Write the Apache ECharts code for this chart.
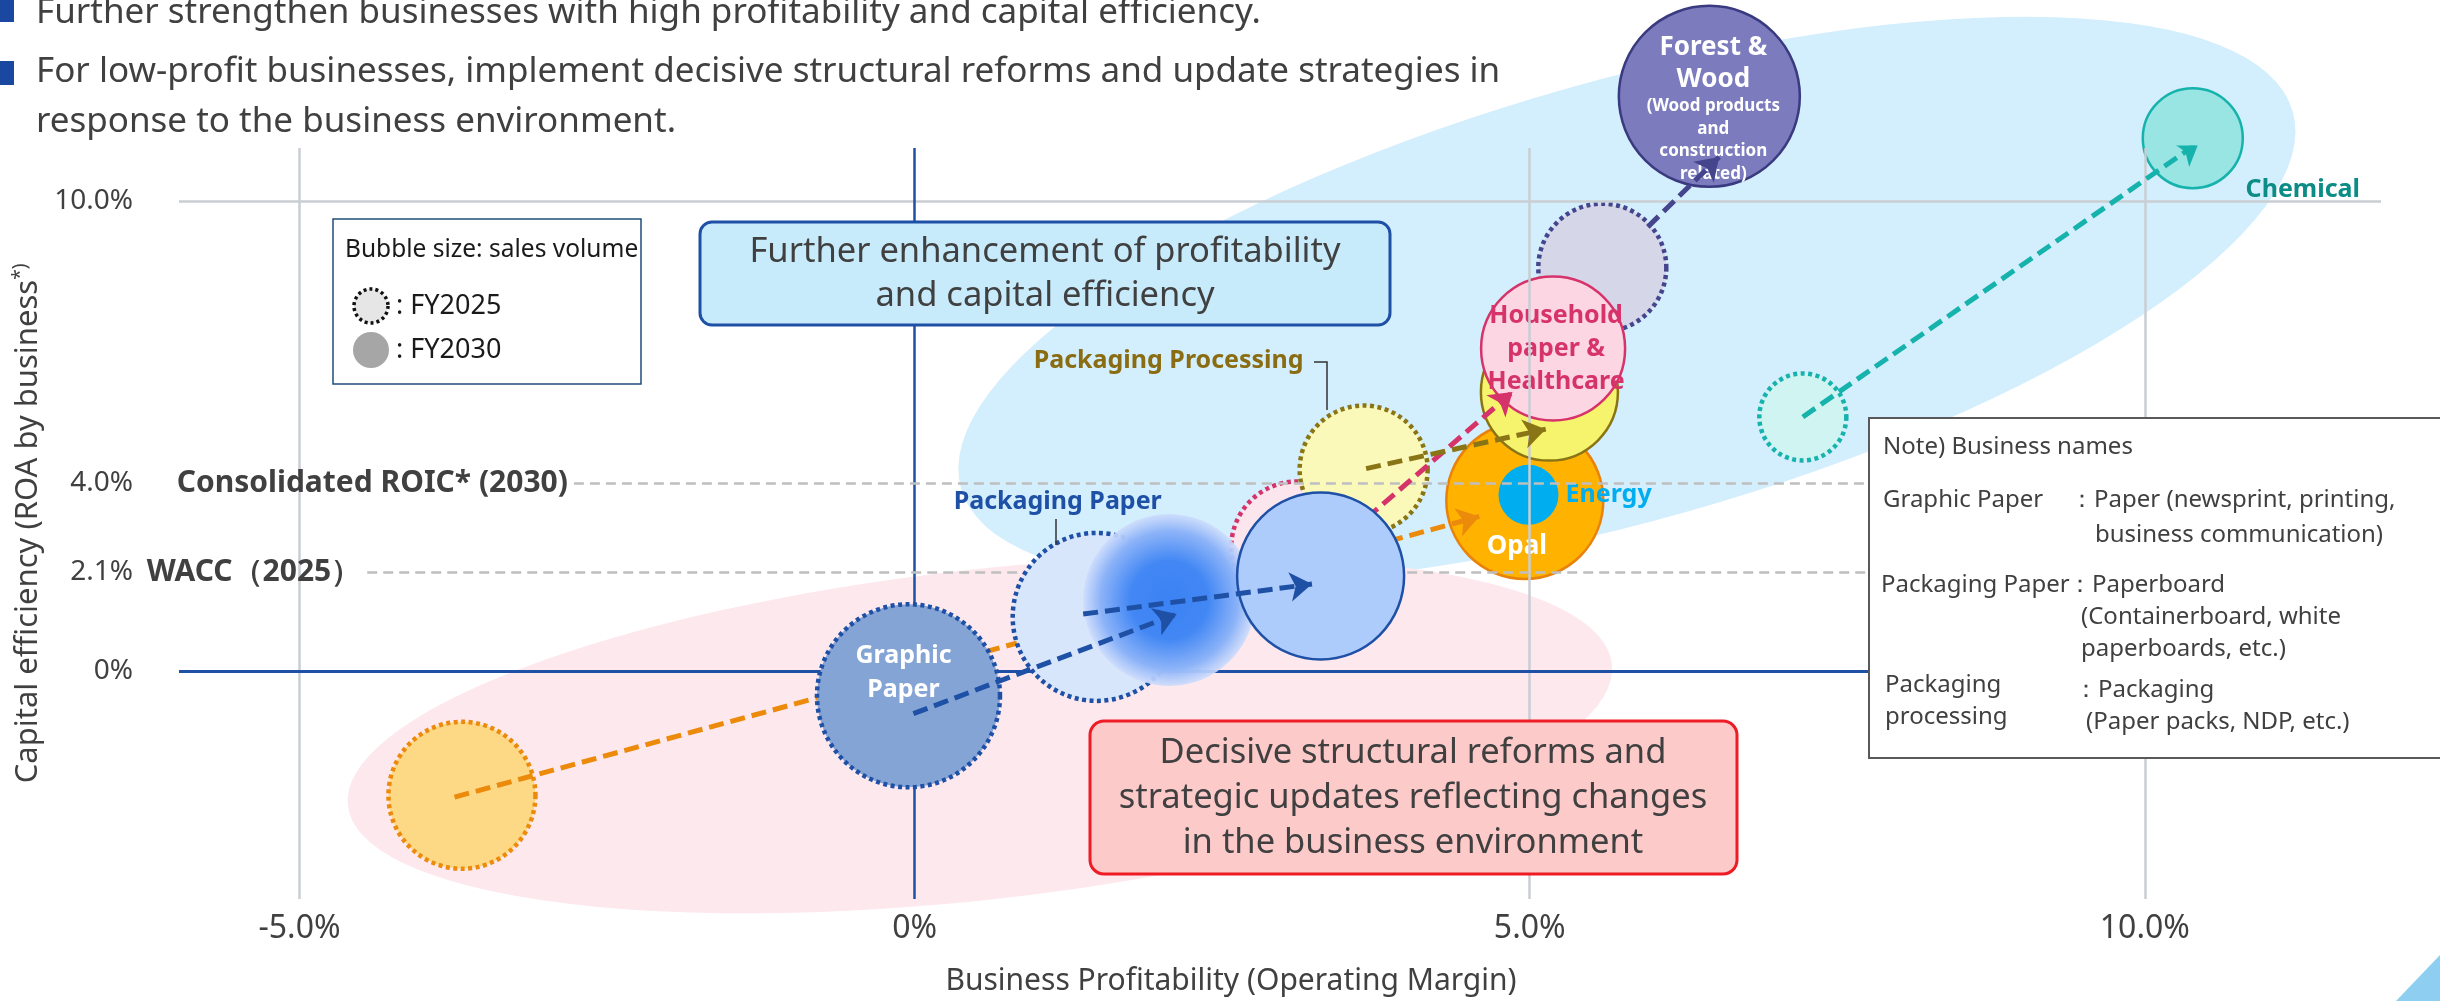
<!DOCTYPE html>
<html>
<head>
<meta charset="utf-8">
<title>Business portfolio</title>
<script src="https://cdn.jsdelivr.net/npm/echarts@6/dist/echarts.min.js"></script>
<style>
	html, body { margin: 0; padding: 0; background: #fff; }
	#main { width: 2440px; height: 1001px; }
</style>
</head>
<body>
<div id="main"></div>
<script>
// Businesses on the chart (same order in every array below)
var businesses = ['Graphic Paper', 'Packaging Paper', 'Packaging Processing', 'Household paper & Healthcare', 'Forest & Wood', 'Chemical', 'Opal', 'Energy'];

// FY2025 (dotted bubbles): operating margin %, ROA %, bubble size (sales volume)
var margin2025 = [-0.05, 1.48, 3.65, 3.11, 5.59, 7.22, -3.68, null];
var roa2025    = [-0.53, 1.15, 4.29, 2.63, 8.59, 5.41, -2.65, null];
var sales2025  = [183, 168, 128, 132, 128, 87, 147, null];

// FY2030 (solid bubbles)
var margin2030 = [2.07, 3.30, 5.16, 5.19, 6.46, 10.39, 4.96, 4.99];
var roa2030    = [1.51, 2.02, 5.94, 6.87, 12.24, 11.35, 3.63, 3.75];
var sales2030  = [172, 167, 137, 144, 181, 100, 157, 60];

// arrows FY2025 -> FY2030
var arrowFromX = [-0.01, 1.37, 3.67, 3.13, 5.96, 7.22, -3.74, null];
var arrowFromY = [-0.91, 1.21, 4.31, 2.02, 9.46, 5.41, -2.69, null];
var arrowToX   = [2.13, 3.23, 5.13, 4.86, 6.54, 10.44, 4.59, null];
var arrowToY   = [1.21, 1.85, 5.15, 5.94, 10.95, 11.26, 3.29, null];

// axes
var xTicks = [-5, 0, 5, 10];
var xTickLabels = ['-5.0%', '0%', '5.0%', '10.0%'];
var yTicks = [0, 2.1, 4, 10];
var yTickLabels = ['0%', '2.1%', '4.0%', '10.0%'];
var roicTarget = 4.0;   // Consolidated ROIC* (2030)
var waccLevel = 2.1;    // WACC (2025)

var X_MIN = -5.98, X_MAX = 11.92;
var Y_MIN = -4.86, Y_MAX = 11.14;

var FONT = "'Noto Sans', sans-serif";
var TEXT = '#404040';
var BLUE = '#1e50a6';

// colours per business
var lineColor = [BLUE, BLUE, '#8a7516', '#d6336b', '#45458e', '#16b2ac', '#ec8a0b', '#00aeef'];
var fill2025 = ['#84a4d6', '#d8e6fc', '#fbf9b9', '#fce6ee', '#d6d6e9', '#cff4f2', '#fdd985', null];
var fill2030 = [
	{type: 'radial', x: 0.5, y: 0.5, r: 0.5, colorStops: [
		{offset: 0, color: '#3b82f3'}, {offset: 0.45, color: '#4287f4'},
		{offset: 0.8, color: '#8cb3f8'}, {offset: 1, color: 'rgba(205,220,252,0.9)'}]},
	'#adcbfb', '#f6f46c', '#fcd7e3', '#7b7bbd', '#98e5e3', '#ffb300', '#00aeef'];
var border2030 = [null, BLUE, '#8a7516', '#d6336b', '#3a3a80', '#16b2ac', '#e8820a', null];

// bubble labels
var labels = {
	'0-2025': {formatter: 'Graphic\nPaper', color: '#fff', fontSize: 25, lineHeight: 34, offset: [-5, -23]},
	'1-2025': {formatter: 'Packaging Paper', color: BLUE, fontSize: 25, offset: [-39, -115]},
	'2-2025': {formatter: 'Packaging Processing', color: '#8a6d12', fontSize: 25, offset: [-195, -109]},
	'3-2030': {formatter: 'Household\npaper &\nHealthcare', color: '#d6336b', fontSize: 25, lineHeight: 33, offset: [3, 0]},
	'4-2030': {
		formatter: '{big|Forest &}\n{big|Wood}\n{small|(Wood products}\n{small|and}\n{small|construction}\n{small|related)}',
		offset: [4, 12],
		rich: {
			big: {color: '#fff', fontWeight: 'bold', fontSize: 26, lineHeight: 32, fontFamily: FONT},
			small: {color: '#fff', fontWeight: 'bold', fontSize: 17, lineHeight: 22.5, fontFamily: FONT}
		}
	},
	'5-2030': {formatter: 'Chemical', color: '#0b8c84', fontSize: 25, offset: [110, 52]},
	'6-2030': {formatter: 'Opal', color: '#fff', fontSize: 26, offset: [-8, 46]},
	'7-2030': {formatter: 'Energy', color: '#00aeef', fontSize: 25, position: 'right', distance: 7}
};

function bubble(i, year) {
	var is25 = year === 2025;
	var item = {
		name: businesses[i] + ' FY' + year,
		value: is25 ? [margin2025[i], roa2025[i], sales2025[i]] : [margin2030[i], roa2030[i], sales2030[i]],
		itemStyle: is25 ? {
			color: fill2025[i], opacity: 1, borderColor: lineColor[i], borderWidth: 4.5, borderType: [4, 3.5]
		} : {
			color: fill2030[i], opacity: 1, borderColor: border2030[i] || 'transparent', borderWidth: border2030[i] ? 2.5 : 0
		}
	};
	var lb = labels[i + '-' + year];
	if (lb) {
		item.label = Object.assign({
			show: true, position: 'inside', fontWeight: 'bold', fontSize: 24, fontFamily: FONT
		}, lb);
	}
	return item;
}

function arrow(i) {
	return {
		coords: [[arrowFromX[i], arrowFromY[i]], [arrowToX[i], arrowToY[i]]],
		lineStyle: {color: lineColor[i]}
	};
}

function bubbleSeries(list, z) {
	return {
		type: 'scatter', z: z, silent: true, clip: false,
		symbol: 'circle',
		symbolSize: function (v) { return v[2]; },
		itemStyle: {opacity: 1},
		data: list.map(function (b) { return bubble(b[0], b[1]); })
	};
}

function arrowSeries(list, z) {
	return {
		type: 'lines', coordinateSystem: 'cartesian2d', z: z, silent: true,
		symbol: ['none', 'arrow'], symbolSize: 22,
		lineStyle: {width: 5, type: [15, 7], opacity: 1},
		data: list.map(arrow)
	};
}

// decorative zones behind the bubbles (centre in data units, radii in px)
var zones = [
	{cx: 5.79, cy: 7.9, rx: 692, ry: 220, angle: 15.8, color: '#d3eefc'},
	{cx: 0.53, cy: -1.36, rx: 636, ry: 165, angle: 6.4, color: '#fde8ee'}
];

function hLine(y, x0, style) {
	return [{coord: [x0, y], lineStyle: style}, {coord: [X_MAX, y]}];
}
function vLine(x, style) {
	return [{coord: [x, Y_MIN], lineStyle: style}, {coord: [x, Y_MAX]}];
}
var grey = {color: '#c9ced3', width: 2.5, type: 'solid'};
var blue = {color: BLUE, width: 3, type: 'solid'};
var dash = {color: '#bfbfbf', width: 2.5, type: [10, 6]};

var chart = echarts.init(document.getElementById('main'));

function txt(x, y, text, size, extra) {
	return {type: 'text', x: x, y: y, style: Object.assign({
		text: text, fill: TEXT, fontSize: size, fontFamily: FONT, verticalAlign: 'middle'
	}, extra || {})};
}

var graphics = [
	// header bullets
	{type: 'rect', shape: {x: 0, y: 0, width: 14, height: 22}, style: {fill: '#1a47a0'}},
	{type: 'rect', shape: {x: 0, y: 61, width: 14, height: 24}, style: {fill: '#1a47a0'}},
	txt(36, 13, 'Further strengthen businesses with high profitability and capital efficiency.', 35),
	txt(36, 72, 'For low-profit businesses, implement decisive structural reforms and update strategies in', 35),
	txt(36, 122, 'response to the business environment.', 35),

	// bubble legend
	{type: 'rect', shape: {x: 333, y: 219, width: 308, height: 165}, style: {fill: '#fff', stroke: '#1f4e79', lineWidth: 1.5}},
	txt(345, 250, 'Bubble size: sales volume', 24.5, {fill: '#1a1a1a'}),
	{type: 'circle', shape: {cx: 371, cy: 306, r: 17}, style: {fill: '#e6e6e6', stroke: '#111', lineWidth: 3.5, lineDash: [3, 3]}},
	txt(396, 306, ': FY2025', 27, {fill: '#1a1a1a'}),
	{type: 'circle', shape: {cx: 371, cy: 350, r: 18}, style: {fill: '#a6a6a6'}},
	txt(396, 350, ': FY2030', 27, {fill: '#1a1a1a'}),

	// callouts
	{type: 'rect', shape: {x: 700, y: 222, width: 690, height: 103, r: 12}, style: {fill: '#c8ebfc', stroke: BLUE, lineWidth: 3}},
	txt(1045, 274, 'Further enhancement of profitability\nand capital efficiency', 34.5, {lineHeight: 44, align: 'center'}),
	{type: 'rect', shape: {x: 1090, y: 721, width: 647, height: 153, r: 14}, style: {fill: '#fdcaca', stroke: '#ee1c25', lineWidth: 3}},
	txt(1413, 798, 'Decisive structural reforms and\nstrategic updates reflecting changes\nin the business environment', 34.5, {lineHeight: 45, align: 'center'}),

	// label leaders
	{type: 'polyline', shape: {points: [[1056, 519], [1056, 545]]}, style: {stroke: '#333', lineWidth: 1.5}},
	{type: 'polyline', shape: {points: [[1314, 362], [1327, 362], [1327, 410]]}, style: {stroke: '#333', lineWidth: 1.5, fill: null}},

	// note box
	{type: 'rect', shape: {x: 1869, y: 418, width: 600, height: 340}, style: {fill: '#fff', stroke: '#595959', lineWidth: 2}},
	txt(1883, 447, 'Note) Business names', 24),
	txt(1883, 500, 'Graphic Paper', 24),
	txt(2070, 500, '：Paper (newsprint, printing,', 24),
	txt(2095, 535, 'business communication)', 24),
	txt(1881, 585, 'Packaging Paper', 24),
	txt(2068, 585, '：Paperboard', 24),
	txt(2081, 617, '(Containerboard, white', 24),
	txt(2081, 649, 'paperboards, etc.)', 24),
	txt(1885, 685, 'Packaging', 24),
	txt(1885, 717, 'processing', 24),
	txt(2074, 690, '：Packaging', 24),
	txt(2086, 722, '(Paper packs, NDP, etc.)', 24),

	// corner decoration
	{type: 'polygon', shape: {points: [[2396, 1001], [2440, 955], [2440, 1001]]}, style: {fill: '#8ecff1'}}
];
graphics.forEach(function (g) { g.z = 100; });

var option = {
	animation: false,
	textStyle: {fontFamily: FONT},
	grid: {left: 179, right: 59, top: 148, bottom: 99, containLabel: false},
	xAxis: {
		type: 'value', min: X_MIN, max: X_MAX,
		axisLine: {show: false}, axisTick: {show: false}, splitLine: {show: false},
		axisLabel: {
			customValues: xTicks, color: TEXT, fontSize: 32, margin: 14,
			formatter: function (v) {
				for (var k = 0; k < xTicks.length; k++) if (Math.abs(v - xTicks[k]) < 1e-6) return xTickLabels[k];
				return '';
			}
		},
		name: 'Business Profitability (Operating Margin)',
		nameLocation: 'middle', nameGap: 67,
		nameTextStyle: {color: TEXT, fontSize: 30, padding: [0, 98, 0, 0]}
	},
	yAxis: {
		type: 'value', min: Y_MIN, max: Y_MAX,
		axisLine: {show: false}, axisTick: {show: false}, splitLine: {show: false},
		axisLabel: {
			customValues: yTicks, color: TEXT, fontSize: 28, margin: 46,
			formatter: function (v) {
				for (var k = 0; k < yTicks.length; k++) if (Math.abs(v - yTicks[k]) < 1e-6) return yTickLabels[k];
				return '';
			}
		},
		name: '{a|Capital efficiency (ROA by business}{b|*)}',
		nameLocation: 'middle', nameGap: 131,
		nameTextStyle: {
			rich: {
				a: {color: TEXT, fontSize: 31, fontFamily: FONT},
				b: {color: TEXT, fontSize: 19, fontFamily: FONT, verticalAlign: 'top', padding: [0, 0, 14, 0]}
			}
		}
	},
	series: [
		{
			type: 'custom', z: 1, silent: true,
			data: zones.map(function (z) { return [z.cx, z.cy]; }),
			renderItem: function (params, api) {
				var z = zones[params.dataIndex];
				var p = api.coord([z.cx, z.cy]);
				return {
					type: 'circle', shape: {cx: 0, cy: 0, r: 1},
					x: p[0], y: p[1], scaleX: z.rx, scaleY: z.ry,
					rotation: z.angle * Math.PI / 180,
					style: {fill: z.color}
				};
			}
		},
		{
			type: 'line', z: 2, silent: true, data: [],
			markLine: {
				silent: true, symbol: ['none', 'none'], animation: false,
				label: {show: false},
				data: [
					vLine(-5, grey), vLine(5, grey), vLine(10, grey),
					hLine(10, X_MIN, grey),
					hLine(0, X_MIN, blue), vLine(0, {color: BLUE, width: 2.5, type: 'solid'}),
					[{coord: [-2.77, roicTarget], lineStyle: dash,
						label: {show: true, position: 'start', distance: 6, formatter: 'Consolidated ROIC* (2030)',
							color: TEXT, fontWeight: 'bold', fontSize: 30, fontFamily: FONT}},
						{coord: [X_MAX, roicTarget]}],
					[{coord: [-4.45, waccLevel], lineStyle: dash,
						label: {show: true, position: 'start', distance: 6, formatter: 'WACC（2025）',
							color: TEXT, fontWeight: 'bold', fontSize: 30, fontFamily: FONT}},
						{coord: [X_MAX, waccLevel]}]
				]
			}
		},
		bubbleSeries([[4, 2025], [6, 2025], [5, 2025], [6, 2030], [7, 2030], [2, 2030], [3, 2030], [4, 2030], [5, 2030]], 3),
		bubbleSeries([[3, 2025], [2, 2025]], 4),
		arrowSeries([6, 3, 2, 4, 5], 5),
		bubbleSeries([[0, 2025], [1, 2025], [0, 2030], [1, 2030]], 6),
		arrowSeries([0, 1], 7)
	],
	graphic: graphics
};

chart.setOption(option);
</script>
</body>
</html>
